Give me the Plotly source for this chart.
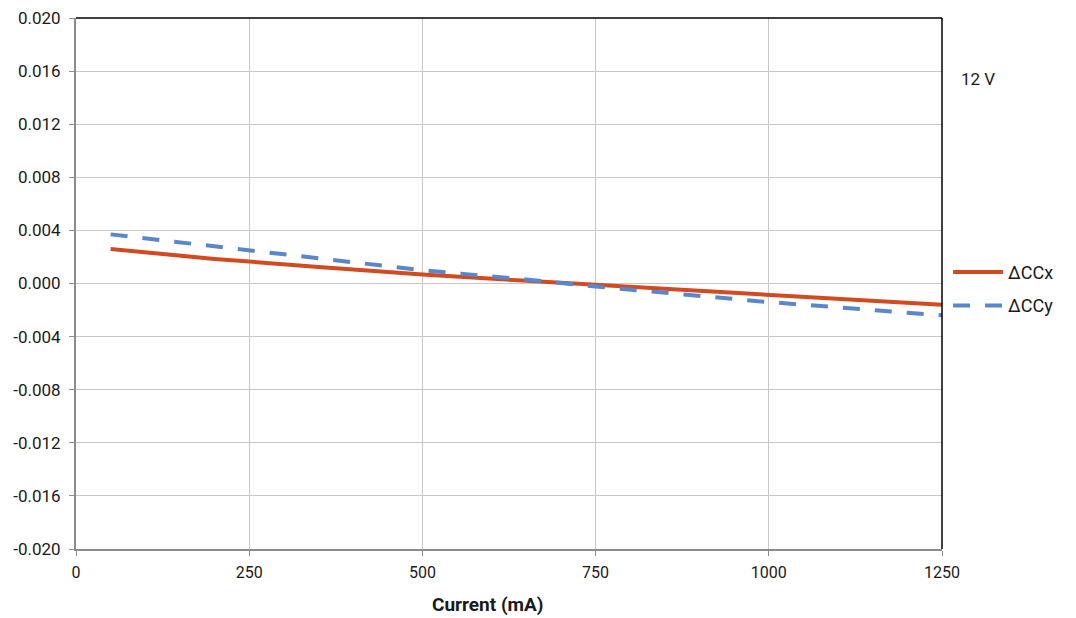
import plotly.graph_objects as go

current = [50, 200, 350, 500, 650, 750, 1000, 1250]
dccx = [0.0026, 0.00185, 0.00125, 0.00068, 0.0002, -0.0001, -0.0009, -0.0016]
dccy = [0.0037, 0.0028, 0.0019, 0.0010, 0.0003, -0.00023, -0.0014, -0.0024]

x_ticks = [0, 250, 500, 750, 1000, 1250]
y_ticks = [-0.020, -0.016, -0.012, -0.008, -0.004, 0.000, 0.004, 0.008, 0.012, 0.016, 0.020]

fig = go.Figure()
fig.add_trace(go.Scatter(x=current, y=dccx, mode="lines", name="ΔCCx", legendgroup="a",
                         line=dict(color="#D24A1F", width=4)))
fig.add_trace(go.Scatter(x=current, y=dccy, mode="lines", name="ΔCCy", legendgroup="b",
                         line=dict(color="#5A87CC", width=4, dash="17px,15px")))

fig.update_layout(
    width=1076, height=618,
    margin=dict(l=68, r=142, t=10, b=77),
    paper_bgcolor="white", plot_bgcolor="white",
    font=dict(family="Roboto", size=17, color="#1a1a1a"),
    legend=dict(x=1.007, y=0.49, xanchor="left", yanchor="middle",
                font=dict(size=18), bgcolor="rgba(0,0,0,0)",
                tracegroupgap=7, itemwidth=50),
    annotations=[
        dict(text="12 V", x=1.02, y=0.885, xref="paper", yref="paper",
             xanchor="left", yanchor="middle", showarrow=False,
             font=dict(size=17)),
        dict(text="<b>Current (mA)</b>", x=0.475, y=-0.105, xref="paper", yref="paper",
             xanchor="center", yanchor="middle", showarrow=False,
             font=dict(size=19)),
    ],
    shapes=[
        dict(type="line", xref="paper", yref="paper", x0=0, x1=1, y0=1, y1=1,
             line=dict(color="black", width=1.5)),
        dict(type="line", xref="paper", yref="paper", x0=1, x1=1, y0=0, y1=1,
             line=dict(color="black", width=1.5)),
    ],
)
fig.update_xaxes(range=[0, 1250], tickvals=x_ticks, ticktext=[str(v) for v in x_ticks],
                 showgrid=True, gridcolor="#c8c8c8", gridwidth=1,
                 showline=True, linecolor="#8c8c8c", linewidth=2,
                 ticks="outside", ticklen=5, tickcolor="#8c8c8c",
                 tickfont=dict(size=16), ticklabelstandoff=3,
                 zeroline=False, automargin=False)
fig.update_yaxes(range=[-0.020, 0.020], tickvals=y_ticks,
                 ticktext=[f"{v:.3f}" for v in y_ticks],
                 showgrid=True, gridcolor="#c8c8c8", gridwidth=1,
                 showline=True, linecolor="#8c8c8c", linewidth=2,
                 ticks="outside", ticklen=5, tickcolor="#8c8c8c",
                 tickfont=dict(size=17), ticklabelstandoff=5,
                 ticklabeloverflow="allow",
                 zeroline=False, automargin=False)

fig.write_html("out.html")
